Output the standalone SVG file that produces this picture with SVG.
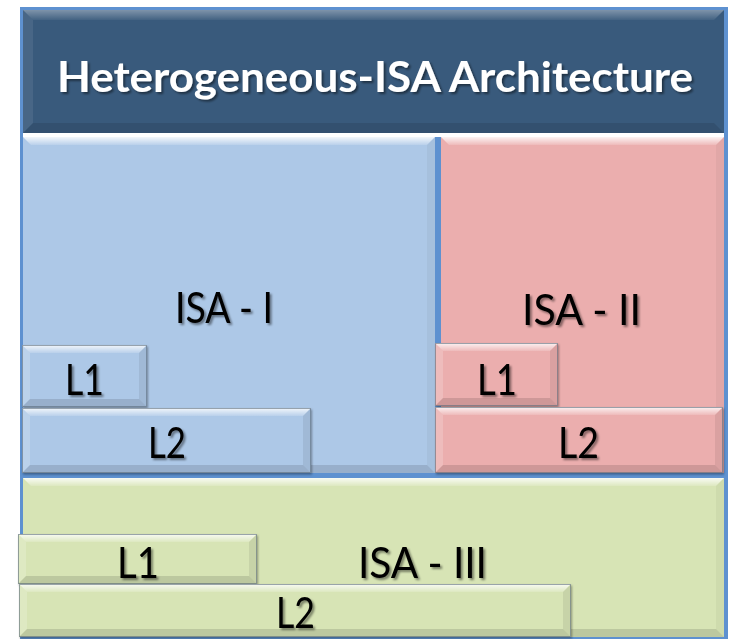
<svg xmlns="http://www.w3.org/2000/svg" width="733" height="639" viewBox="0 0 733 639">
  <defs>
    <linearGradient id="topHi" x1="0" y1="0" x2="0" y2="1">
      <stop offset="0" stop-color="#ffffff" stop-opacity="0.85"/>
      <stop offset="1" stop-color="#ffffff" stop-opacity="0.15"/>
    </linearGradient>
    <linearGradient id="titleHi" x1="0" y1="0" x2="0" y2="1">
      <stop offset="0" stop-color="#ffffff" stop-opacity="0.35"/>
      <stop offset="1" stop-color="#ffffff" stop-opacity="0.05"/>
    </linearGradient>
    <filter id="tshadow" x="-10%" y="-20%" width="130%" height="150%">
      <feDropShadow dx="2" dy="2" stdDeviation="1.2" flood-color="#000000" flood-opacity="0.45"/>
    </filter>
    <filter id="bshadow" x="-5%" y="-5%" width="115%" height="120%">
      <feDropShadow dx="1" dy="1.5" stdDeviation="1" flood-color="#000000" flood-opacity="0.35"/>
    </filter>
  </defs>
  <style>
    .lbl { font-family: Lato, "Liberation Sans", Arial, sans-serif; font-size: 42px; fill: #000000; filter: url(#tshadow); }
    .title { font-family: Lato, "Liberation Sans", Arial, sans-serif; font-size: 42px; font-weight: bold; fill: #ffffff; filter: url(#tshadow); }
    .blue { fill: #adc8e7; }
    .pink { fill: #ebaeae; }
    .green { fill: #d7e4b5; }
    .hi { fill: url(#topHi); }
    .lft { fill: #ffffff; fill-opacity: 0.18; }
    .rgt { fill: #000000; fill-opacity: 0.07; }
    .rgtb { fill: #000000; fill-opacity: 0.04; }
    .btm { fill: #000000; fill-opacity: 0.12; }
    .edge { fill: none; stroke: #5a6a7a; stroke-opacity: 0.6; stroke-width: 1; }
  </style>

  <!-- outer frame -->
  <rect x="20" y="7" width="708" height="632" fill="#5e91d0"/>

  <!-- title -->
  <g id="title">
    <rect x="23" y="10" width="701" height="123" fill="#395a7c"/>
    <polygon points="23,10 724,10 714,20 33,20" fill="url(#titleHi)"/>
    <polygon points="23,10 33,20 33,123 23,133" fill="#ffffff" fill-opacity="0.08"/>
    <polygon points="23,133 33,123 714,123 724,133" fill="#000000" fill-opacity="0.1"/>
    <text class="title" x="57" y="92" textLength="636" lengthAdjust="spacingAndGlyphs">Heterogeneous-ISA Architecture</text>
  </g>

  <rect x="23" y="133" width="701" height="4" fill="#ffffff"/>

  <!-- ISA I -->
  <g id="isa1">
    <rect class="blue" x="23" y="137" width="412" height="336"/>
    <polygon class="hi" points="23,137 435,137 427,145 31,145"/>
    <polygon class="rgtb" points="435,137 435,473 427,465 427,145"/>
    <polygon class="btm" points="23,473 31,465 427,465 435,473"/>
    <text class="lbl" x="175" y="323" textLength="98" lengthAdjust="spacingAndGlyphs">ISA - I</text>
  </g>

  <!-- ISA II -->
  <g id="isa2">
    <rect class="pink" x="441" y="137" width="283" height="336"/>
    <polygon class="hi" points="441,137 724,137 716,145 449,145"/>
    <polygon class="rgtb" points="724,137 724,473 716,465 716,145"/>
    <polygon class="btm" points="441,473 449,465 716,465 724,473"/>
    <text class="lbl" x="522" y="325" textLength="119" lengthAdjust="spacingAndGlyphs">ISA - II</text>
  </g>

  <!-- ISA III -->
  <g id="isa3">
    <rect class="green" x="23" y="478" width="701" height="159"/>
    <polygon class="hi" points="23,478 724,478 716,486 31,486"/>
    <polygon class="rgtb" points="724,478 724,637 716,629 716,486"/>
    <polygon class="btm" points="23,637 31,629 716,629 724,637"/>
    <text class="lbl" x="358" y="578" textLength="129" lengthAdjust="spacingAndGlyphs">ISA - III</text>
  </g>

  <!-- cache blocks ISA I -->
  <g id="isa1-l1" filter="url(#bshadow)">
    <rect class="blue" x="22" y="345" width="125" height="62"/>
    <polygon class="hi" points="22,345 147,345 139,353 30,353"/>
    <polygon class="lft" points="22,345 30,353 30,399 22,407"/>
    <polygon class="rgt" points="147,345 147,407 139,399 139,353"/>
    <polygon class="btm" points="22,407 30,399 139,399 147,407"/>
    <rect class="edge" x="22.5" y="345.5" width="124" height="61"/>
  </g>
  <text class="lbl" x="65" y="395" textLength="39" lengthAdjust="spacingAndGlyphs">L1</text>

  <g id="isa1-l2" filter="url(#bshadow)">
    <rect class="blue" x="22" y="408" width="289" height="65"/>
    <polygon class="hi" points="22,408 311,408 303,416 30,416"/>
    <polygon class="lft" points="22,408 30,416 30,465 22,473"/>
    <polygon class="rgt" points="311,408 311,473 303,465 303,416"/>
    <polygon class="btm" points="22,473 30,465 303,465 311,473"/>
    <rect class="edge" x="22.5" y="408.5" width="288" height="64"/>
  </g>
  <text class="lbl" x="148" y="458" textLength="38" lengthAdjust="spacingAndGlyphs">L2</text>

  <!-- cache blocks ISA II -->
  <g id="isa2-l1" filter="url(#bshadow)">
    <rect class="pink" x="435" y="343" width="123" height="63"/>
    <polygon class="hi" points="435,343 558,343 550,351 443,351"/>
    <polygon class="lft" points="435,343 443,351 443,398 435,406"/>
    <polygon class="rgt" points="558,343 558,406 550,398 550,351"/>
    <polygon class="btm" points="435,406 443,398 550,398 558,406"/>
    <rect class="edge" x="435.5" y="343.5" width="122" height="62"/>
  </g>
  <text class="lbl" x="477" y="395" textLength="40" lengthAdjust="spacingAndGlyphs">L1</text>

  <g id="isa2-l2" filter="url(#bshadow)">
    <rect class="pink" x="435" y="407" width="288" height="66"/>
    <polygon class="hi" points="435,407 723,407 715,415 443,415"/>
    <polygon class="lft" points="435,407 443,415 443,465 435,473"/>
    <polygon class="rgt" points="723,407 723,473 715,465 715,415"/>
    <polygon class="btm" points="435,473 443,465 715,465 723,473"/>
    <rect class="edge" x="435.5" y="407.5" width="287" height="65"/>
  </g>
  <text class="lbl" x="558" y="458" textLength="41" lengthAdjust="spacingAndGlyphs">L2</text>

  <!-- cache blocks ISA III -->
  <g id="isa3-l1" filter="url(#bshadow)">
    <rect class="green" x="18" y="534" width="239" height="50"/>
    <polygon class="hi" points="18,534 257,534 249,542 26,542"/>
    <polygon class="lft" points="18,534 26,542 26,576 18,584"/>
    <polygon class="rgt" points="257,534 257,584 249,576 249,542"/>
    <polygon class="btm" points="18,584 26,576 249,576 257,584"/>
    <rect class="edge" x="18.5" y="534.5" width="238" height="49"/>
  </g>
  <text class="lbl" x="117" y="578" textLength="42" lengthAdjust="spacingAndGlyphs">L1</text>

  <g id="isa3-l2" filter="url(#bshadow)">
    <rect class="green" x="19" y="584" width="552" height="53"/>
    <polygon class="hi" points="19,584 571,584 563,592 27,592"/>
    <polygon class="lft" points="19,584 27,592 27,629 19,637"/>
    <polygon class="rgt" points="571,584 571,637 563,629 563,592"/>
    <polygon class="btm" points="19,637 27,629 563,629 571,637"/>
    <rect class="edge" x="19.5" y="584.5" width="551" height="52"/>
  </g>
  <text class="lbl" x="276" y="628" textLength="39" lengthAdjust="spacingAndGlyphs">L2</text>
</svg>
